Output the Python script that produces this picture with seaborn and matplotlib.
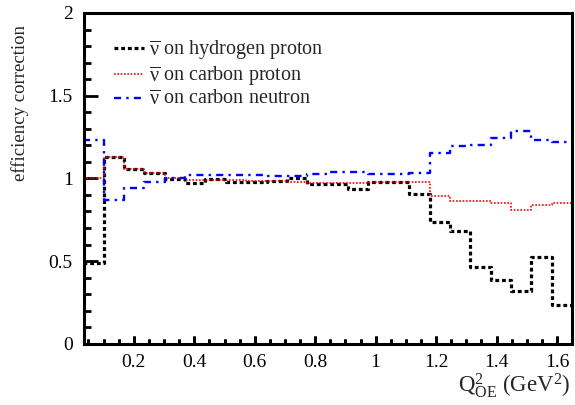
"""
Efficiency correction vs Q^2_OE, step histograms drawn with seaborn
"""

import matplotlib
matplotlib.use("Agg")
import matplotlib.pyplot as plt
from matplotlib.ticker import MultipleLocator, FuncFormatter
import seaborn as sns
import pandas as pd
import numpy as np

# Q^2_OE binning (GeV^2): 24 uniform bins, first one partly left of the axis
q2_edges = np.linspace(0.0326, 1.65, 25)

# Efficiency correction per bin
hydrogen_proton = [0.49, 1.13, 1.055, 1.03, 0.995, 0.975, 0.995, 0.98, 0.98, 0.985,
                   1.0, 0.968, 0.968, 0.937, 0.98, 0.98, 0.906, 0.735, 0.683, 0.463,
                   0.387, 0.32, 0.526, 0.236]
carbon_proton = [1.0, 1.13, 1.055, 1.03, 1.0, 0.99, 0.99, 0.99, 0.985, 0.985,
                 0.98, 0.975, 0.97, 0.97, 0.98, 0.98, 0.98, 0.896, 0.866, 0.866,
                 0.85, 0.81, 0.84, 0.852]
carbon_neutron = [1.23, 0.87, 0.945, 0.98, 1.0, 1.02, 1.02, 1.02, 1.02, 1.017,
                  1.017, 1.027, 1.037, 1.037, 1.025, 1.025, 1.035, 1.152, 1.198, 1.2,
                  1.243, 1.287, 1.235, 1.22]

labels = [r"$\overline{\mathrm{\nu}}$ on hydrogen proton",
          r"$\overline{\mathrm{\nu}}$ on carbon proton",
          r"$\overline{\mathrm{\nu}}$ on carbon neutron"]

sns.set_style("ticks")
plt.rcParams["font.family"] = ["Liberation Serif", "DejaVu Serif"]
plt.rcParams["mathtext.fontset"] = "custom"
plt.rcParams["mathtext.rm"] = "Liberation Serif"
plt.rcParams["mathtext.it"] = "Liberation Serif:italic"
plt.rcParams.update({
    "xtick.direction": "in", "ytick.direction": "in",
    "xtick.color": "black", "ytick.color": "black",
})

fig = plt.figure(figsize=(5.75, 4.05), dpi=100)
ax = fig.add_axes([0.146, 0.151, 0.849, 0.817])

centers = 0.5 * (q2_edges[:-1] + q2_edges[1:])
styles = [
    dict(color="black", linewidth=2.3, linestyle=(0, (1.2, 0.9))),
    dict(color="red", linewidth=1.2, linestyle=(0, (1, 1))),
    dict(color="blue", linewidth=1.7, linestyle=(0, (3, 2.2, 1, 2.2))),
]

handles = []
for values, style in zip([hydrogen_proton, carbon_proton, carbon_neutron], styles):
    df = pd.DataFrame({"q2": centers, "eff": values})
    sns.histplot(data=df, x="q2", weights="eff", bins=list(q2_edges),
                 element="step", fill=False, ax=ax, **style)
    handles.append(ax.lines[-1])

ax.set_xlim(0.035, 1.65)
ax.set_ylim(0, 2)
ax.set_xlabel("")
ax.set_ylabel("")

fmt = FuncFormatter(lambda v, pos: "%g" % round(v, 2))
ax.xaxis.set_major_locator(MultipleLocator(0.2))
ax.xaxis.set_minor_locator(MultipleLocator(0.05))
ax.yaxis.set_major_locator(MultipleLocator(0.5))
ax.yaxis.set_minor_locator(MultipleLocator(0.1))
ax.xaxis.set_major_formatter(fmt)
ax.yaxis.set_major_formatter(fmt)

ax.xaxis.set_ticks_position("bottom")
ax.yaxis.set_ticks_position("left")
for axis in (ax.xaxis, ax.yaxis):
    axis.set_tick_params(which="both", direction="in", width=2, color="black",
                         labelsize=14)
ax.yaxis.set_tick_params(which="major", length=10, pad=8)
ax.yaxis.set_tick_params(which="minor", length=5)
ax.xaxis.set_tick_params(which="major", length=6, pad=7)
ax.xaxis.set_tick_params(which="minor", length=3.6)

# ROOT-style short tick marks along the bottom axis
lo, hi = ax.get_xlim()
xmaj = [v for v in ax.xaxis.get_majorticklocs() if lo <= v <= hi]
xmin = [v for v in ax.xaxis.get_minorticklocs() if lo <= v <= hi]
ax.vlines(xmaj, 0, 0.025, transform=ax.get_xaxis_transform(),
          colors="black", linewidth=2, clip_on=False, zorder=3)
ax.vlines(xmin, 0, 0.015, transform=ax.get_xaxis_transform(),
          colors="black", linewidth=2, clip_on=False, zorder=3)

for spine in ax.spines.values():
    spine.set_visible(True)
    spine.set_linewidth(2.2)
    spine.set_color("black")

fig.text(20 / 575, 1 - 103 / 405, "efficiency correction", rotation=90,
         ha="center", va="center", fontsize=13.5)
fig.text(0.993, 1 - 386 / 405, r"Q$^{2}_{\mathrm{OE}}$ (GeV$^{2}$)",
         ha="right", va="center", fontsize=16.5)

ax.legend(handles, labels, loc="upper left", bbox_to_anchor=(0.198, 0.905),
          bbox_transform=fig.transFigure, frameon=False, fontsize=14.5,
          handlelength=1.5, handletextpad=0.25, labelspacing=0.1,
          borderpad=0, borderaxespad=0)

fig.savefig("out.png", dpi=100)
